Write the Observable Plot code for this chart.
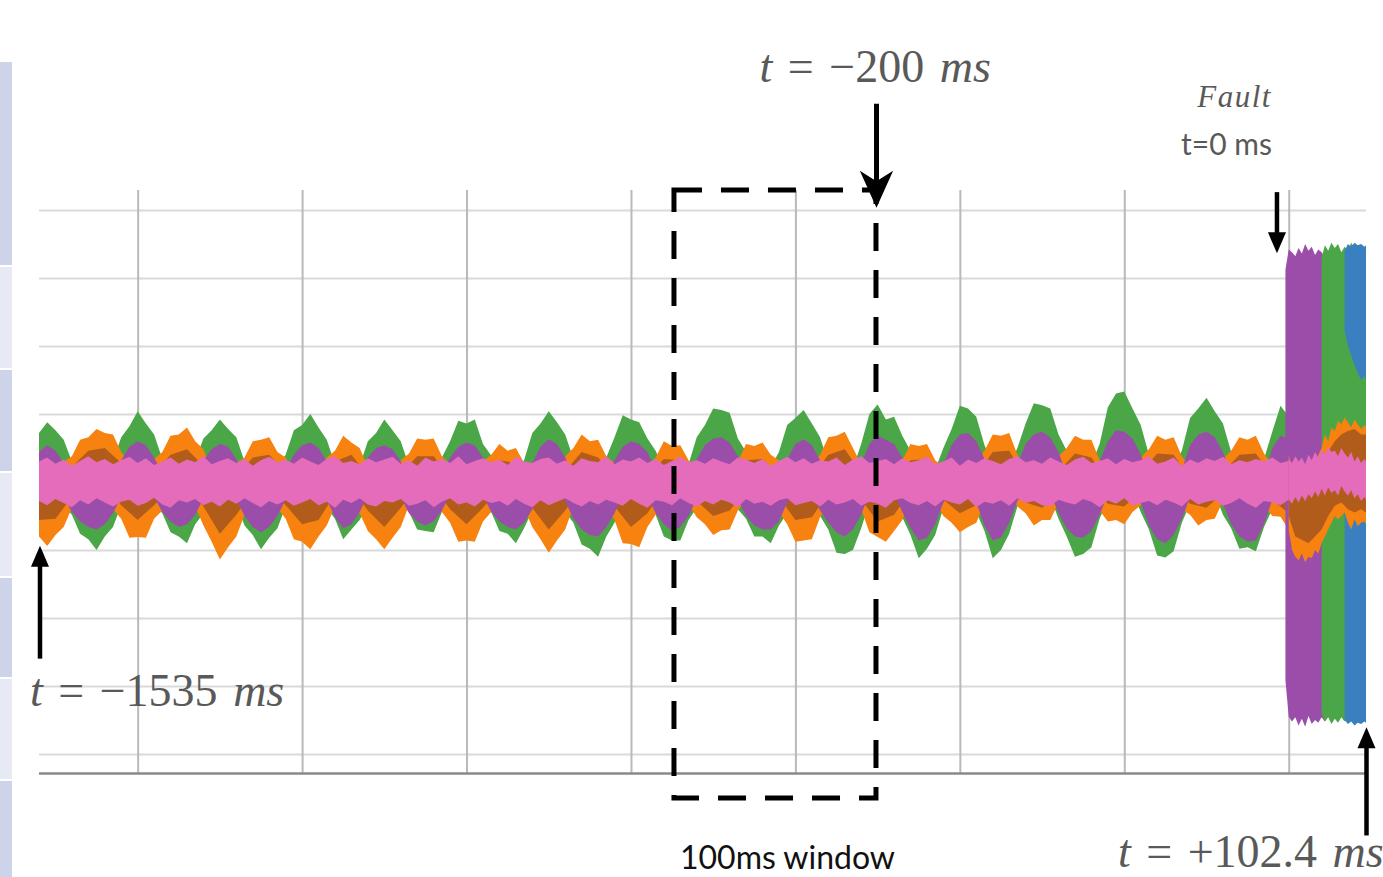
<!DOCTYPE html>
<html><head><meta charset="utf-8">
<script src="https://cdn.jsdelivr.net/npm/d3@7"></script>
<script src="https://cdn.jsdelivr.net/npm/@observablehq/plot@0.6"></script>
<style>
html,body{margin:0;padding:0;background:#fff;overflow:hidden;}
#wrap{position:relative;width:1383px;height:877px;}
.strip{position:absolute;left:0;width:12px;}
</style></head><body>
<div id="wrap">
<div class="strip" style="top:62px;height:203px;background:#cdd4ea"></div>
<div class="strip" style="top:267px;height:101px;background:#e7eaf5"></div>
<div class="strip" style="top:370px;height:101px;background:#cdd4ea"></div>
<div class="strip" style="top:473px;height:103px;background:#e7eaf5"></div>
<div class="strip" style="top:578px;height:99px;background:#cdd4ea"></div>
<div class="strip" style="top:679px;height:100px;background:#e7eaf5"></div>
<div class="strip" style="top:781px;height:96px;background:#cdd4ea"></div>
</div>
<script>
// ---- time sampling (ms) ----
const tStart = -1520, tStep = 10, tStepBrown = 20;
const xDomain = [-1520, 94];
const yDomain = [-427.9, 429.4];
const xGrid = [-1400, -1200, -1000, -800, -600, -400, -200, 0];
const yGrid = [-400, -300, -200, -100, 0, 100, 200, 300, 400];

// ---- pre-fault envelopes (upper / lower), every 10 ms from -1520 to 0 ----
const greenHi = [72,88,76,62,30,18,8,4,18,31,
66,82,104,86,70,34,16,5,16,32,
64,76,92,78,66,30,14,3,10,24,
40,76,84,100,80,62,26,10,12,24,
60,72,92,76,60,24,10,4,19,36,
60,90,86,92,56,39,14,5,16,32,
72,86,104,88,70,34,16,6,18,36,
66,98,92,88,64,46,18,6,14,26,
66,84,108,106,102,64,44,16,6,22,
44,84,94,106,86,66,28,12,4,20,
56,100,114,92,96,68,46,18,5,18,
50,78,112,108,96,54,26,8,24,50,
86,116,113,108,70,46,16,5,26,56,
110,130,133,108,84,40,16,6,22,46,
94,108,124,104,86,44,20,8,5,34,
74,112,96];
const greenLo = [-10,-2,-10,-34,-48,-76,-84,-100,-80,-66,
-34,-14,-4,-12,-34,-46,-74,-80,-90,-62,
-46,-18,-6,-14,-32,-64,-78,-99,-82,-68,
-36,-18,-6,-2,-14,-38,-54,-84,-70,-56,
-34,-10,-2,-10,-32,-44,-70,-72,-74,-44,
-30,-8,0,-8,-30,-44,-72,-76,-90,-68,
-42,-20,-6,-18,-44,-60,-92,-98,-110,-80,
-60,-28,-10,-8,-30,-48,-80,-86,-86,-56,
-38,-12,-2,-4,-16,-40,-54,-80,-80,-90,
-64,-46,-18,-6,-22,-50,-70,-104,-106,-100,
-68,-30,-10,-14,-22,-52,-78,-112,-98,-78,
-38,-16,-4,-10,-44,-72,-112,-100,-76,-36,
-14,-4,-6,-22,-54,-80,-110,-106,-96,-54,
-26,-6,-4,-14,-44,-70,-108,-111,-102,-60,
-32,-10,-4,-16,-48,-68,-98,-96,-102,-66,
-40,-12,-8];
const purpleHi = [44,54,46,28,8,-4,-12,-14,-8,8,
32,52,60,54,36,12,-2,-12,-8,8,
32,48,56,52,34,10,-4,-14,-10,2,
18,40,54,58,50,30,6,-8,-6,12,
36,50,54,48,30,6,-6,-12,-6,12,
36,52,58,54,36,12,-2,-10,-12,0,
28,52,63,56,36,10,-6,-14,-12,4,
32,52,60,56,44,16,-2,-12,-8,8,
34,54,64,66,58,38,12,-4,-12,-10,
6,34,56,63,54,32,6,-10,-16,-6,
26,56,68,62,56,36,8,-10,-16,-6,
26,54,70,72,60,34,0,-14,-6,26,
56,70,74,66,44,10,-10,-16,-4,30,
60,76,74,64,40,8,-10,-16,-6,18,
54,70,74,66,44,10,-8,-14,-12,8,
50,68,64];
const purpleLo = [-8,-4,-10,-22,-44,-58,-66,-70,-62,-46,
-22,-8,-2,-10,-22,-44,-58,-66,-62,-48,
-24,-10,-4,-10,-26,-50,-66,-74,-66,-50,
-26,-12,-4,-2,-12,-26,-52,-68,-62,-44,
-20,-6,-2,-8,-22,-46,-58,-64,-58,-42,
-18,-6,0,-6,-20,-44,-58,-66,-70,-60,
-40,-14,-4,-12,-28,-54,-70,-78,-80,-66,
-46,-18,-6,-6,-20,-46,-62,-72,-66,-50,
-24,-8,-2,-4,-12,-26,-50,-64,-70,-70,
-58,-30,-12,-4,-16,-42,-60,-74,-80,-70,
-48,-16,-6,-10,-16,-44,-68,-86,-82,-62,
-30,-12,-4,-8,-30,-64,-86,-82,-60,-28,
-10,-4,-4,-16,-46,-68,-80,-82,-72,-48,
-18,-6,-4,-10,-30,-64,-84,-90,-78,-54,
-22,-8,-4,-12,-32,-62,-80,-88,-86,-62,
-26,-8,-6];
const orangeHi = [10,4,12,30,38,62,66,78,72,70,
44,28,8,14,34,44,68,70,80,60,
48,18,6,10,28,36,60,62,66,44,
36,16,6,2,14,36,46,68,58,50,
22,10,4,12,32,42,64,62,64,38,
26,8,2,10,30,40,56,46,50,28,
18,8,2,14,38,50,70,60,62,38,
28,10,4,6,24,36,60,53,54,32,
20,8,2,4,20,30,56,53,58,40,
32,12,4,6,26,40,66,68,74,50,
26,10,4,10,22,32,56,53,56,32,
22,6,2,6,30,46,70,68,72,40,
22,6,2,12,38,50,68,62,62,32,
18,4,4,12,36,48,68,62,66,38,
22,6,2,10,34,46,66,62,68,42,
24,8,20];
const orangeLo = [-80,-94,-78,-66,-38,-26,-16,-12,-18,-40,
-54,-82,-81,-82,-54,-42,-20,-12,-14,-36,
-64,-88,-114,-96,-80,-48,-30,-16,-18,-38,
-54,-84,-88,-99,-80,-64,-36,-18,-20,-46,
-72,-84,-99,-82,-66,-34,-20,-12,-18,-44,
-60,-88,-86,-88,-58,-44,-22,-14,-16,-38,
-66,-84,-104,-86,-70,-36,-20,-12,-14,-36,
-56,-90,-91,-96,-66,-48,-22,-12,-14,-32,
-52,-62,-78,-71,-70,-42,-26,-14,-12,-18,
-44,-62,-88,-86,-84,-52,-32,-16,-12,-24,
-40,-74,-81,-88,-72,-56,-28,-14,-12,-28,
-50,-60,-74,-66,-60,-30,-16,-10,-14,-36,
-46,-64,-56,-56,-30,-18,-10,-10,-20,-42,
-58,-56,-62,-44,-34,-16,-10,-10,-18,-40,
-48,-64,-56,-54,-28,-16,-10,-10,-14,-34,
-50,-51,-70];
const pinkHi = [30,36,27,33,24,31,38,29,34,26,
32,37,28,35,25,30,36,27,33,29,
38,26,31,35,28,34,24,32,37,29,
33,27,36,30,25,34,38,28,31,26,
35,29,33,37,27,32,24,36,30,34,
28,38,26,31,35,29,33,25,37,30,
28,34,36,27,32,24,35,31,29,38,
26,33,30,36,28,34,25,31,37,29,
32,27,35,30,26,36,33,28,34,24,
31,37,29,35,27,32,30,36,25,33,
38,28,31,34,26,35,29,32,37,27,
30,36,24,33,28,35,31,26,34,38,
29,32,27,36,30,25,33,37,28,31,
35,26,34,29,32,38,27,30,36,24,
33,28,35,31,37,26,32,29,34,30,
36,28,31];
const pinkLo = [-28,-34,-25,-31,-37,-27,-33,-24,-30,-36,
-29,-26,-35,-31,-23,-33,-38,-27,-30,-25,
-34,-29,-36,-26,-32,-24,-31,-37,-28,-33,
-27,-35,-30,-25,-34,-29,-38,-26,-31,-24,
-33,-36,-28,-30,-25,-35,-32,-27,-37,-29,
-24,-33,-30,-36,-26,-31,-28,-35,-25,-32,
-37,-27,-34,-29,-24,-31,-36,-28,-33,-26,
-30,-35,-25,-32,-38,-27,-29,-34,-24,-31,
-36,-28,-33,-26,-30,-37,-25,-32,-29,-35,
-27,-24,-34,-31,-28,-36,-26,-33,-30,-25,
-35,-29,-32,-38,-27,-24,-31,-34,-28,-36,
-26,-30,-33,-25,-37,-29,-32,-27,-35,-24,
-31,-28,-34,-36,-26,-30,-33,-25,-29,-37,
-27,-32,-24,-35,-31,-28,-34,-26,-30,-36,
-25,-33,-29,-27,-35,-31,-24,-32,-38,-28,
-30,-34,-26];
// brown: every 20 ms from -1520 to 0
const brownHi = [-2,2,22,46,50,28,-2,12,40,48,
24,-4,8,36,40,14,-4,2,30,40,
10,-6,12,38,38,8,-8,10,32,28,
6,-8,16,44,36,8,-6,8,34,32,
8,-8,4,32,34,12,-6,8,40,48,
14,-6,6,32,34,6,-8,10,44,46,
6,-8,16,42,36,2,-6,14,42,40,
6,-8,14,40,42,8,10];
const brownLo = [-56,-54,-22,-4,-6,-34,-56,-34,-8,-2,
-36,-76,-48,-14,-6,-34,-62,-56,-18,-8,
-42,-66,-38,-8,-6,-40,-62,-38,-10,-4,
-38,-70,-42,-8,-2,-36,-66,-46,-10,-2,
-28,-50,-42,-12,0,-22,-56,-52,-16,0,
-26,-58,-48,-14,0,-26,-46,-34,-4,-2,
-30,-38,-18,2,-8,-32,-36,-14,2,-6,
-32,-38,-16,2,-2,-26,-46];

// ---- post-fault envelopes ----
const tFaultPurple = [-4,0,4,8,12,16,20,24,28,32,36,40,44,48,52,56,60,64,68,72,76,80,84,88,92,94];
const purpleFaultHi = [312,342,338,332,344,336,350,340,346,334,342,338,330,324,332,320,326,316,322,312,318,306,314,302,310,306];
const purpleFaultLo = [-291,-345,-352,-346,-358,-348,-360,-344,-356,-350,-354,-346,-352,-344,-350,-340,-348,-342,-346,-340,-344,-338,-342,-336,-340,-338];
const tFaultGreen = [40,44,48,52,56,60,64,68,72,76,80,84,88,92,94];
const greenFaultHi = [330,348,340,352,344,350,338,346,340,352,344,348,342,346,344];
const greenFaultLo = [-340,-352,-346,-356,-348,-354,-346,-352,-344,-350,-346,-352,-348,-350,-346];
const tFaultBlue = [68,72,76,80,84,88,92,94];
const blueFaultHi = [340,350,346,352,348,350,346,348];
const blueFaultLo = [-350,-356,-352,-358,-354,-356,-352,-354];
const tFaultGreenInner = [52,56,60,64,68,72,76,80,84,88,92,94];
const greenInnerHi = [150,190,215,205,222,200,186,172,160,150,156,150];
const greenInnerLo = [80,70,60,70,56,66,50,60,56,70,60,64];
const tFault4 = [0,4,8,12,16,20,24,28,32,36,40,44,48,52,56,60,64,68,72,76,80,84,88,92,94];
const orangeFaultHi = [40,20,30,10,25,15,20,30,20,40,50,70,60,80,75,90,85,95,88,80,92,85,78,84,80];
const orangeFaultLo = [-70,-100,-110,-115,-105,-118,-110,-112,-100,-105,-90,-80,-70,-60,-50,-55,-50,-45,-60,-70,-55,-65,-60,-58,-62];
const pinkFaultHi = [34,28,38,30,36,26,40,32,44,36,48,40,52,44,46,38,50,42,36,44,30,38,28,34,30];
const pinkFaultLo = [-26,-32,-22,-30,-20,-28,-18,-24,-14,-22,-10,-20,-8,-16,-12,-20,-6,-14,-20,-12,-24,-18,-28,-22,-26];
const tFaultBrown = [0,8,16,24,32,40,48,56,64,72,80,88,94];
const brownFaultHi = [20,10,5,10,5,30,45,60,70,75,78,70,70];
const brownFaultLo = [-50,-80,-85,-90,-80,-70,-50,-35,-30,-40,-45,-40,-45];

const colors = {green:"#4aa646", orange:"#f7820f", brown:"#a0531f", purple:"#9b4ea9", blue:"#3a7fbf", pink:"#e56cba"};

// ---- annotations (data units) ----
const windowBox = [{x1:-747.7, x2:-502, y1:-464.7, y2:429.4}];
const arrows = [
  {x:-502, yFrom:557, yTo:437, tip:404, rot:180, w:5, head:"stealth"},
  {x:-1519.4, yFrom:-259, yTo:-118, tip:-93, rot:0, w:4.5, head:"tri"},
  {x:-14.9, yFrom:427, yTo:362, tip:337, rot:180, w:4.5, head:"tri"},
  {x:94, yFrom:-519, yTo:-385, tip:-360, rot:0, w:4.5, head:"tri"}
];
const labels = [
  {x:-503, y:588, anchor:"middle", kind:"math", parts:[["t",true],[" = \u2212200 ",false],["ms",true]]},
  {x:-1531, y:-329.4, anchor:"start", kind:"math", parts:[["t",true],[" = \u22121535 ",false],["ms",true]]},
  {x:-207.7, y:-566, anchor:"start", kind:"math", parts:[["t",true],[" = +102.4 ",false],["ms",true]]},
  {x:-20.4, y:551.5, anchor:"end", kind:"fault", parts:[["Fault",true]]},
  {x:-20.4, y:481, anchor:"end", kind:"sans", parts:[["t=0 ms",false]]},
  {x:-740.4, y:-569, anchor:"start", kind:"window", parts:[["100ms window",false]]}
];

// ---- build tables ----
const preTimes = d3.range(greenHi.length).map(i => tStart + i * tStep);
const brownTimes = d3.range(brownHi.length).map(i => tStart + i * tStepBrown);
const band = (times, hi, lo) => times.map((t, i) => ({t, hi: hi[i], lo: lo[i]}));
const area = (data, fill, fillOpacity = 1) => Plot.areaY(data, {x: "t", y1: "lo", y2: "hi", fill, fillOpacity, curve: "linear"});

const stealth = {draw(ctx, size) { const s = Math.sqrt(size / Math.PI);
  ctx.moveTo(0, 0); ctx.lineTo(0.45 * s, s); ctx.lineTo(0, 0.72 * s); ctx.lineTo(-0.45 * s, s); ctx.closePath(); }};
const tri = {draw(ctx, size) { const s = Math.sqrt(size / Math.PI);
  ctx.moveTo(0, 0); ctx.lineTo(0.43 * s, s); ctx.lineTo(-0.43 * s, s); ctx.closePath(); }};

const plot = Plot.plot({
  width: 1383, height: 877,
  marginLeft: 39, marginRight: 17, marginTop: 190, marginBottom: 104,
  x: {domain: xDomain, axis: null},
  y: {domain: yDomain, axis: null},
  style: {background: "transparent", overflow: "visible"},
  marks: [
    Plot.ruleY(yGrid, {stroke: "#dadada", strokeWidth: 2}),
    Plot.ruleX(xGrid, {stroke: "#b9b9b9", strokeWidth: 2}),
    Plot.ruleY([yDomain[0]], {stroke: "#8a8a8a", strokeWidth: 2.5}),
    area(band(preTimes, greenHi, greenLo), colors.green),
    area(band(preTimes, orangeHi, orangeLo), colors.orange),
    area(band(brownTimes, brownHi, brownLo), colors.brown, 0.8),
    area(band(preTimes, purpleHi, purpleLo), colors.purple),
    area(band(tFaultPurple, purpleFaultHi, purpleFaultLo), colors.purple),
    area(band(tFaultGreen, greenFaultHi, greenFaultLo), colors.green),
    area(band(tFaultBlue, blueFaultHi, blueFaultLo), colors.blue),
    area(band(tFaultGreenInner, greenInnerHi, greenInnerLo), colors.green),
    area(band(tFault4, orangeFaultHi, orangeFaultLo), colors.orange),
    area(band(tFaultBrown, brownFaultHi, brownFaultLo), colors.brown, 0.8),
    area(band(preTimes, pinkHi, pinkLo), colors.pink),
    area(band(tFault4, pinkFaultHi, pinkFaultLo), colors.pink),
    Plot.rect(windowBox, {x1: "x1", x2: "x2", y1: "y1", y2: "y2", fill: "none", stroke: "black", strokeWidth: 5, strokeDasharray: "28,19"}),
    Plot.link(arrows, {x1: "x", x2: "x", y1: "yFrom", y2: "yTo", stroke: "black", strokeWidth: "w"}),
    Plot.dot(arrows.filter(d => d.head === "stealth"), {x: "x", y: "tip", r: 37, symbol: stealth, rotate: "rot", fill: "black", stroke: "none"}),
    Plot.dot(arrows.filter(d => d.head === "tri"), {x: "x", y: "tip", r: 21, symbol: tri, rotate: "rot", fill: "black", stroke: "none"})
  ]
});
document.getElementById("wrap").appendChild(plot);
plot.style.position = "absolute"; plot.style.left = "0"; plot.style.top = "0";

const sx = plot.scale("x"), sy = plot.scale("y");
const svg = d3.select(plot);
const styles = {
  math: {family: "'Liberation Serif','Times New Roman',serif", size: 46, fill: "#595959", ws: "4px", ls: "0px"},
  fault: {family: "'Liberation Serif','Times New Roman',serif", size: 31, fill: "#595959", ws: "0px", ls: "1.5px"},
  sans: {family: "Lato,'Open Sans',sans-serif", size: 30, fill: "#595959", ws: "0px", ls: "0px"},
  window: {family: "Lato,'Open Sans',sans-serif", size: 32, fill: "#111", ws: "0px", ls: "0px"}
};
for (const l of labels) {
  const st = styles[l.kind];
  const txt = svg.append("text")
    .attr("x", sx.apply(l.x)).attr("y", sy.apply(l.y))
    .attr("text-anchor", l.anchor)
    .attr("font-family", st.family).attr("font-size", st.size)
    .attr("fill", st.fill)
    .style("white-space", "pre").style("word-spacing", st.ws).style("letter-spacing", st.ls);
  for (const [s, it] of l.parts) txt.append("tspan").attr("font-style", it ? "italic" : "normal").text(s);
}
</script></body></html>
